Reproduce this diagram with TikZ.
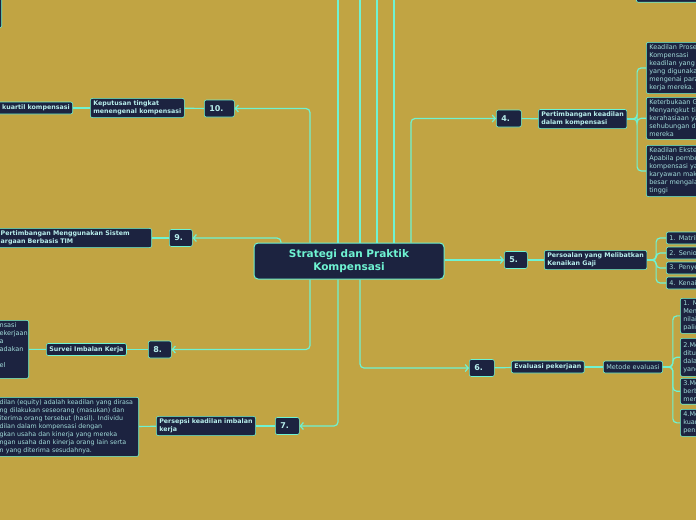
\documentclass[tikz,border=0pt]{standalone}
\usepackage{fontspec}
\setmainfont{DejaVu Sans}
\usetikzlibrary{arrows.meta}
\definecolor{bgc}{HTML}{C1A443}
\definecolor{navy}{HTML}{1C2340}
\definecolor{aqua}{HTML}{6FF3D2}
\definecolor{pale}{HTML}{B8EEEC}
\definecolor{leaftxt}{HTML}{A2DCDA}
\hyphenpenalty=10000
\exhyphenpenalty=10000
\tikzset{
  topic/.style={draw=aqua, line width=1pt, fill=navy, rounded corners=4pt, text=aqua, font=\bfseries\fontsize{10.5}{13}\selectfont, minimum width=190pt, minimum height=36pt, align=center},
  numbox/.style={draw=aqua, line width=0.6pt, fill=navy, rounded corners=2pt, text=pale, font=\bfseries\fontsize{8}{9}\selectfont, inner xsep=5pt, minimum height=17pt, text width=#1, align=left, anchor=west},
  idea/.style={draw=aqua, line width=0.6pt, fill=navy, rounded corners=2pt, text=pale, font=\bfseries\fontsize{6.3}{8}\selectfont, inner xsep=3pt, inner ysep=2.5pt, minimum height=12pt, align=left, anchor=west},
  leafbox/.style={draw=aqua, line width=0.6pt, fill=navy, rounded corners=2pt, text=leaftxt, font=\fontsize{6.5}{8}\selectfont, inner xsep=3pt, inner ysep=2.5pt, align=left},
  link/.style={draw=aqua, line width=1.2pt, rounded corners=4pt}
}
\begin{document}
\begin{tikzpicture}[x=1pt, y=-1pt, >={Straight Barb[length=3pt,width=7pt]}]
\useasboundingbox (0,0) rectangle (696,520);
\clip (0,0) rectangle (696,520);
\fill[bgc] (0,0) rectangle (696,520);

% centre
\node[topic] (topic) at (349,261) {Strategi dan Praktik\\Kompensasi};

% branches running out of view
\node[leafbox, anchor=south east, minimum width=20pt, minimum height=33pt] (offtl) at (2,28) {};
\node[leafbox, anchor=south west, minimum width=80pt, minimum height=20pt] (offtr) at (636,2.5) {};
\coordinate (up1) at (338,-5);
\coordinate (up2) at (360,-5);
\coordinate (up3) at (377,-5);
\coordinate (up4) at (394,-5);

% 10.
\node[numbox=20pt] (n10) at (204,108.5) {10.};
\node[idea] (kep10) at (90,108) {Keputusan tingkat\\menengenal kompensasi};
\node[idea, anchor=east, text width=75pt, align=right] (kuartil) at (73,108) {kuartil kompensasi};

% 9.
\node[numbox=13pt] (n9) at (169,238) {9.};
\node[idea, anchor=east, text width=148pt] (tim9) at (152,238) {Pertimbangan Menggunakan Sistem\\argaan Berbasis TIM};

% 8.
\node[numbox=13pt] (n8) at (148,349.5) {8.};
\node[idea] (survei) at (46,349.5) {Survei Imbalan Kerja};
\node[leafbox, anchor=north east, text width=26pt, minimum height=58pt] (survdesc) at (29,320) {nsasi\\ekerjaan\\a\\adakan\\\mbox{}\\el\\\mbox{}};

% 7.
\node[numbox=14pt] (n7) at (275,426) {7.};
\node[idea] (pers7) at (156,426) {Persepsi keadilan imbalan\\kerja};
\node[leafbox, anchor=north east, text width=136pt, font=\fontsize{6.3}{8}\selectfont] (equity) at (139,397) {dilan (equity) adalah keadilan yang dirasa\\ng dilakukan seseorang (masukan) dan\\iterima orang tersebut (hasil). Individu\\dilan dalam kompensasi dengan\\gkan usaha dan kinerja yang mereka\\ngan usaha dan kinerja orang lain serta\\n yang diterima sesudahnya.};

% 4.
\node[numbox=15pt] (n4) at (496,118.5) {4.};
\node[idea] (adil4) at (538,119) {Pertimbangan keadilan\\dalam kompensasi};
\node[leafbox, anchor=north west, text width=60pt] (prosedural) at (646,42) {Keadilan Prose\\Kompensasi\\keadilan yang\\yang digunaka\\mengenai para\\kerja mereka.};
\node[leafbox, anchor=north west, text width=60pt] (terbuka) at (646,97) {Keterbukaan G\\Menyangkut ti\\kerahasiaan ya\\sehubungan de\\mereka};
\node[leafbox, anchor=north west, text width=60pt] (eksternal) at (646,145) {Keadilan Ekste\\Apabila pembe\\kompensasi ya\\karyawan mak\\besar mengala\\tinggi};

% 5.
\node[numbox=13pt] (n5) at (504,260) {5.};
\node[idea] (gaji5) at (544,260) {Persoalan yang Melibatkan\\Kenaikan Gaji};
\node[leafbox, anchor=west, text width=40pt, minimum height=12pt] (matrik) at (666,238) {1. Matrik};
\node[leafbox, anchor=west, text width=40pt, minimum height=12pt] (senio) at (666,253) {2. Senio};
\node[leafbox, anchor=west, text width=40pt, minimum height=12pt] (penye) at (666,268) {3. Penye};
\node[leafbox, anchor=west, text width=40pt, minimum height=12pt] (kenai) at (666,283) {4. Kenai};

% 6.
\node[numbox=15pt] (n6) at (469,368) {6.};
\node[idea] (eval6) at (511,367) {Evaluasi pekerjaan};
\node[leafbox, anchor=west, minimum height=12pt] (metode) at (603,367) {Metode evaluasi};
\node[leafbox, anchor=north west, text width=30pt] (m1) at (680,298) {1. M\\Men\\nilai\\palin};
\node[leafbox, anchor=north west, text width=30pt, minimum height=38pt] (m2) at (680,338) {2.Me\\ditul\\dala\\yang};
\node[leafbox, anchor=north west, text width=30pt] (m3) at (680,378) {3.Me\\berb\\mem};
\node[leafbox, anchor=north west, text width=30pt] (m4) at (680,409) {4.Me\\kuan\\pens};

% from the centre
\draw[link] (topic.north -| up1) -- (up1);
\draw[link] (topic.north -| up2) -- (up2);
\draw[link] (topic.north -| up3) -- (up3);
\draw[link] (topic.north -| up4) -- (up4);
\draw[link, ->] (topic.north -| 310,0) |- (n10);
\draw[link, ->] (topic.north -| 281,0) |- (n9);
\draw[link, ->] (topic.south -| 310,0) |- (n8);
\draw[link, ->] (topic.south -| 338,0) |- (n7);
\draw[link, ->] (topic.south -| 360,0) |- (n6);
\draw[link, ->] (topic.north -| 411,0) |- (n4);
\draw[link, ->] (topic.east |- n5) -- (n5);

% left side
\draw[link] (n10) -- (kep10);
\draw[link] (kep10) -- (kuartil);
\draw[link] (n9) -- (tim9);
\draw[link] (n8) -- (survei);
\draw[link] (survei) -- (survdesc);
\draw[link] (n7) -- (pers7);
\draw[link] (pers7) -- (equity);

% right side
\draw[link] (n4) -- (adil4);
\draw[link] (adil4.east) -- ++(10,0) |- (prosedural);
\draw[link] (adil4.east) -- ++(10,0) |- (terbuka);
\draw[link] (adil4.east) -- ++(10,0) |- (eksternal);
\draw[link] (n5) -- (gaji5);
\draw[link] (gaji5.east) -- ++(9,0) |- (matrik);
\draw[link] (gaji5.east) -- ++(9,0) |- (senio);
\draw[link] (gaji5.east) -- ++(9,0) |- (penye);
\draw[link] (gaji5.east) -- ++(9,0) |- (kenai);
\draw[link] (n6) -- (eval6);
\draw[link] (eval6) -- (metode);
\draw[link] (metode.east) -- ++(10,0) |- (m1);
\draw[link] (metode.east) -- ++(10,0) |- (m2);
\draw[link] (metode.east) -- ++(10,0) |- (m3);
\draw[link] (metode.east) -- ++(10,0) |- (m4);
\end{tikzpicture}
\end{document}
